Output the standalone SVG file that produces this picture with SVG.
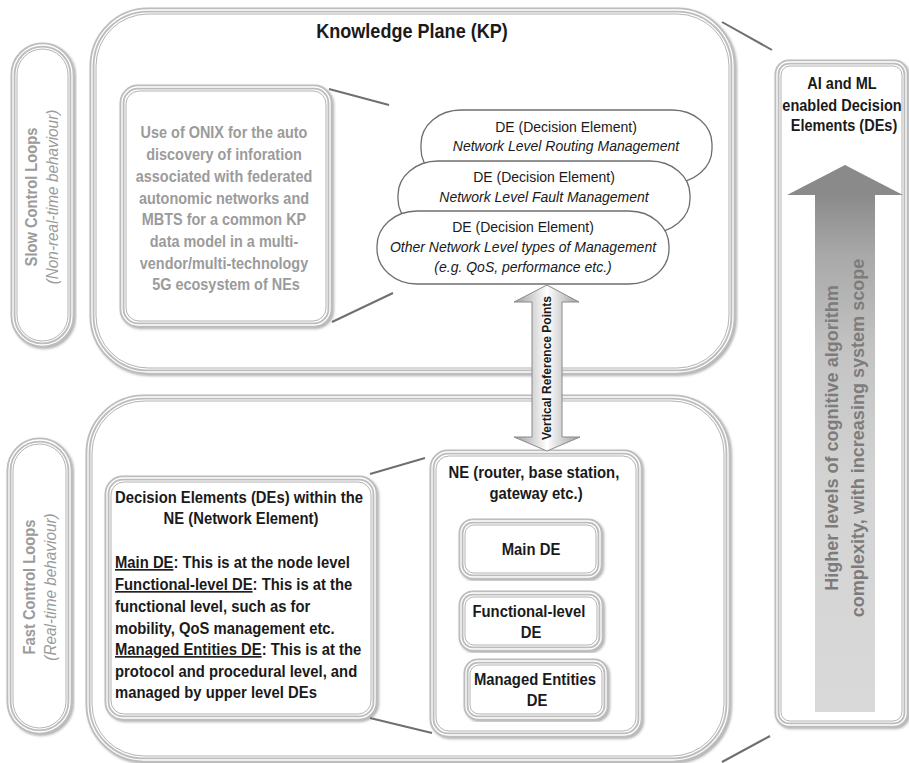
<svg xmlns="http://www.w3.org/2000/svg" width="909" height="763" viewBox="0 0 909 763">
  <defs>
    <style>
      .bev { fill: #ffffff; stroke: #bdbdbd; stroke-width: 5; filter: url(#soft); }
      .bev-hl { fill: none; stroke: #ffffff; stroke-width: 1.3; }
      .bev-in { fill: none; stroke: #9a9a9a; stroke-width: 1; opacity: 0.75; }
      .de { fill: #ffffff; stroke: #6e6e6e; stroke-width: 1.3; }
      .link { stroke: #6f6f6f; stroke-width: 2; fill: none; }
      .sans { font-family: "Liberation Sans", Arial, "DejaVu Sans", sans-serif; }
      .bold { font-weight: bold; }
      .ital { font-style: italic; }
      .grey { fill: #9b9b9b; }
      .dark { fill: #1a1a1a; }
      .mid { text-anchor: middle; }
    </style>
    <filter id="soft" x="-5%" y="-5%" width="112%" height="112%">
      <feDropShadow dx="1.5" dy="1.5" stdDeviation="1.2" flood-color="#7a7a7a" flood-opacity="0.6"/>
    </filter>
    <linearGradient id="shaftV" x1="0" y1="0" x2="1" y2="0">
      <stop offset="0" stop-color="#9c9c9c"/>
      <stop offset="0.5" stop-color="#ffffff"/>
      <stop offset="1" stop-color="#9c9c9c"/>
    </linearGradient>
    <linearGradient id="scopeGrad" x1="0" y1="0" x2="0" y2="1">
      <stop offset="0" stop-color="#8a8a8a"/>
      <stop offset="0.12" stop-color="#a9a9a9"/>
      <stop offset="0.3" stop-color="#c3c3c3"/>
      <stop offset="0.55" stop-color="#d3d3d3"/>
      <stop offset="1" stop-color="#d9d9d9"/>
    </linearGradient>
  </defs>

  <rect width="909" height="763" fill="#ffffff"/>

  <!-- side labels: loop speeds -->
  <g id="slow-loops">
    <rect class="bev" x="13" y="45" width="59" height="300" rx="29.5"/>
    <rect class="bev-hl" x="13" y="45" width="59" height="300" rx="29.5"/>
    <rect class="bev-in" x="17" y="49" width="51" height="292" rx="25.5"/>
    <g transform="translate(37,197) rotate(-90) scale(0.92,1)">
      <text class="sans bold grey mid" x="0" y="0" font-size="16">Slow Control Loops</text>
    </g>
    <g transform="translate(58,197) rotate(-90) scale(0.93,1)">
      <text class="sans ital grey mid" x="0" y="0" font-size="16.5">(Non-real-time behaviour)</text>
    </g>
  </g>

  <g id="fast-loops">
    <rect class="bev" x="9" y="440" width="61" height="292" rx="30.5"/>
    <rect class="bev-hl" x="9" y="440" width="61" height="292" rx="30.5"/>
    <rect class="bev-in" x="13" y="444" width="53" height="284" rx="26.5"/>
    <g transform="translate(35,587) rotate(-90) scale(0.92,1)">
      <text class="sans bold grey mid" x="0" y="0" font-size="16">Fast Control Loops</text>
    </g>
    <g transform="translate(56,587) rotate(-90) scale(0.93,1)">
      <text class="sans ital grey mid" x="0" y="0" font-size="16.5">(Real-time behaviour)</text>
    </g>
  </g>

  <!-- Knowledge Plane container -->
  <g id="knowledge-plane">
    <rect class="bev" x="92" y="10" width="641" height="362" rx="56"/>
    <rect class="bev-hl" x="92" y="10" width="641" height="362" rx="56"/>
    <rect class="bev-in" x="96" y="14" width="633" height="354" rx="52"/>
    <g transform="translate(412,38) scale(0.86,1)">
      <text class="sans bold dark mid" x="0" y="0" font-size="21">Knowledge Plane (KP)</text>
    </g>
  </g>

  <g id="onix">
    <rect class="bev" x="122" y="87" width="208" height="238" rx="16"/>
    <rect class="bev-hl" x="122" y="87" width="208" height="238" rx="16"/>
    <rect class="bev-in" x="126" y="91" width="200" height="230" rx="13"/>
    <g transform="translate(226,0) scale(0.86,1)">
      <text class="sans bold grey mid" font-size="16.8">
        <tspan x="0" y="138">Use of ONIX for the auto</tspan>
        <tspan x="0" y="160">discovery of inforation</tspan>
        <tspan x="0" y="182">associated with federated</tspan>
        <tspan x="0" y="204">autonomic networks and</tspan>
        <tspan x="0" y="225">MBTS for a common KP</tspan>
        <tspan x="0" y="247">data model in a multi-</tspan>
        <tspan x="0" y="269">vendor/multi-technology</tspan>
        <tspan x="0" y="290">5G ecosystem of NEs</tspan>
      </text>
    </g>
  </g>

  <!-- stacked network-level decision elements -->
  <g id="de-routing">
    <rect class="de" x="421" y="110" width="291" height="73" rx="40" ry="34"/>
    <text class="sans dark mid" x="566" y="132" font-size="14">DE (Decision Element)</text>
    <text class="sans ital dark mid" x="566" y="151" font-size="14">Network Level Routing Management</text>
  </g>
  <g id="de-fault">
    <rect class="de" x="398" y="161" width="292" height="72" rx="40" ry="34"/>
    <text class="sans dark mid" x="544" y="182" font-size="14">DE (Decision Element)</text>
    <text class="sans ital dark mid" x="544" y="202" font-size="14">Network Level Fault Management</text>
  </g>
  <g id="de-other">
    <rect class="de" x="377" y="211" width="292" height="73" rx="40" ry="35"/>
    <text class="sans dark mid" x="523" y="232" font-size="14">DE (Decision Element)</text>
    <text class="sans ital dark mid" x="523" y="252" font-size="14">Other Network Level types of Management</text>
    <text class="sans ital dark mid" x="523" y="272" font-size="14">(e.g. QoS, performance etc.)</text>
  </g>

  <!-- Network element container -->
  <g id="fast-plane">
    <rect class="bev" x="88" y="397" width="640" height="363" rx="56"/>
    <rect class="bev-hl" x="88" y="397" width="640" height="363" rx="56"/>
    <rect class="bev-in" x="92" y="401" width="632" height="355" rx="52"/>
  </g>

  <g id="ne-des-info">
    <rect class="bev" x="107" y="478" width="268" height="240" rx="16"/>
    <rect class="bev-hl" x="107" y="478" width="268" height="240" rx="16"/>
    <rect class="bev-in" x="111" y="482" width="260" height="232" rx="13"/>
    <g transform="translate(241,0) scale(0.91,1)">
      <text class="sans bold dark mid" font-size="16.3">
        <tspan x="0" y="503">Decision Elements (DEs) within the</tspan>
        <tspan x="0" y="524">NE (Network Element)</tspan>
      </text>
    </g>
    <g transform="translate(115,0) scale(0.91,1)">
      <text class="sans bold dark" font-size="16.3">
        <tspan x="0" y="568"><tspan text-decoration="underline">Main DE</tspan>: This is at the node level</tspan>
        <tspan x="0" y="590"><tspan text-decoration="underline">Functional-level DE</tspan>: This is at the</tspan>
        <tspan x="0" y="612">functional level, such as for</tspan>
        <tspan x="0" y="634">mobility, QoS management etc.</tspan>
        <tspan x="0" y="655"><tspan text-decoration="underline">Managed Entities DE</tspan>: This is at the</tspan>
        <tspan x="0" y="677">protocol and procedural level, and</tspan>
        <tspan x="0" y="698">managed by upper level DEs</tspan>
      </text>
    </g>
  </g>

  <g id="ne">
    <rect class="bev" x="432" y="452" width="208" height="283" rx="16"/>
    <rect class="bev-hl" x="432" y="452" width="208" height="283" rx="16"/>
    <rect class="bev-in" x="436" y="456" width="200" height="275" rx="13"/>
    <g transform="translate(536,0) scale(0.9,1)">
      <text class="sans bold dark mid" font-size="16.5">
        <tspan x="0" y="478">NE (router, base station,</tspan>
        <tspan x="0" y="499">gateway etc.)</tspan>
      </text>
    </g>
  </g>

  <g id="main-de">
    <rect class="bev" x="461" y="521" width="139" height="56" rx="12"/>
    <rect class="bev-hl" x="461" y="521" width="139" height="56" rx="12"/>
    <rect class="bev-in" x="465" y="525" width="131" height="48" rx="9"/>
    <g transform="translate(531,555) scale(0.9,1)">
      <text class="sans bold dark mid" x="0" y="0" font-size="16.5">Main DE</text>
    </g>
  </g>

  <g id="functional-de">
    <rect class="bev" x="461" y="593" width="140" height="56" rx="12"/>
    <rect class="bev-hl" x="461" y="593" width="140" height="56" rx="12"/>
    <rect class="bev-in" x="465" y="597" width="132" height="48" rx="9"/>
    <g transform="translate(531,0) scale(0.9,1)">
      <text class="sans bold dark mid" font-size="16.5">
        <tspan x="0" y="617">Functional-level</tspan>
        <tspan x="0" y="638">DE</tspan>
      </text>
    </g>
  </g>

  <g id="managed-de">
    <rect class="bev" x="466" y="661" width="140" height="57" rx="12"/>
    <rect class="bev-hl" x="466" y="661" width="140" height="57" rx="12"/>
    <rect class="bev-in" x="470" y="665" width="132" height="49" rx="9"/>
    <g transform="translate(537,0) scale(0.9,1)">
      <text class="sans bold dark mid" font-size="16.5">
        <tspan x="0" y="685">Managed Entities</tspan>
        <tspan x="0" y="706">DE</tspan>
      </text>
    </g>
  </g>

  <!-- AI / ML column with rising complexity arrow -->
  <g id="ai-ml">
    <rect class="bev" x="777" y="62" width="129" height="663" rx="12"/>
    <rect class="bev-hl" x="777" y="62" width="129" height="663" rx="12"/>
    <rect class="bev-in" x="781" y="66" width="121" height="655" rx="9"/>
    <g transform="translate(844,0) scale(0.88,1)">
      <text class="sans bold dark mid" font-size="16.5">
        <tspan x="0" y="89">AI and ML</tspan>
        <tspan x="0" y="111">enabled Decision</tspan>
        <tspan x="0" y="131">Elements (DEs)</tspan>
      </text>
    </g>
    <rect x="815" y="194" width="60" height="518" fill="url(#scopeGrad)"/>
    <polygon points="845,165 903,195 787,195" fill="#8a8a8a"/>
    <g transform="translate(838,438) rotate(-90) scale(0.95,1)">
      <text class="sans bold mid" x="0" y="0" font-size="19" fill="#7c7c7c">Higher levels of cognitive algorithm</text>
    </g>
    <g transform="translate(864,438) rotate(-90) scale(0.95,1)">
      <text class="sans bold mid" x="0" y="0" font-size="19" fill="#7c7c7c">complexity, with increasing system scope</text>
    </g>
  </g>

  <!-- connectors -->
  <g id="connectors">
    <line class="link" x1="329" y1="89" x2="389" y2="105"/>
    <line class="link" x1="332" y1="322" x2="393" y2="293"/>
    <line class="link" x1="722" y1="22" x2="772" y2="50"/>
    <line class="link" x1="722" y1="762" x2="770" y2="736"/>
    <line class="link" x1="370" y1="474" x2="425" y2="458"/>
    <line class="link" x1="370" y1="718" x2="432" y2="733"/>
    <g id="vertical-reference-points">
      <polygon points="547,285 579,302 562,302 562,437 580,437 547,451 514,437 532,437 532,302 514,302" fill="url(#shaftV)" stroke="#8a8a8a" stroke-width="1"/>
      <g transform="translate(551,368) rotate(-90)">
        <text class="sans bold dark mid" x="0" y="0" font-size="12">Vertical Reference Points</text>
      </g>
    </g>
  </g>
</svg>
